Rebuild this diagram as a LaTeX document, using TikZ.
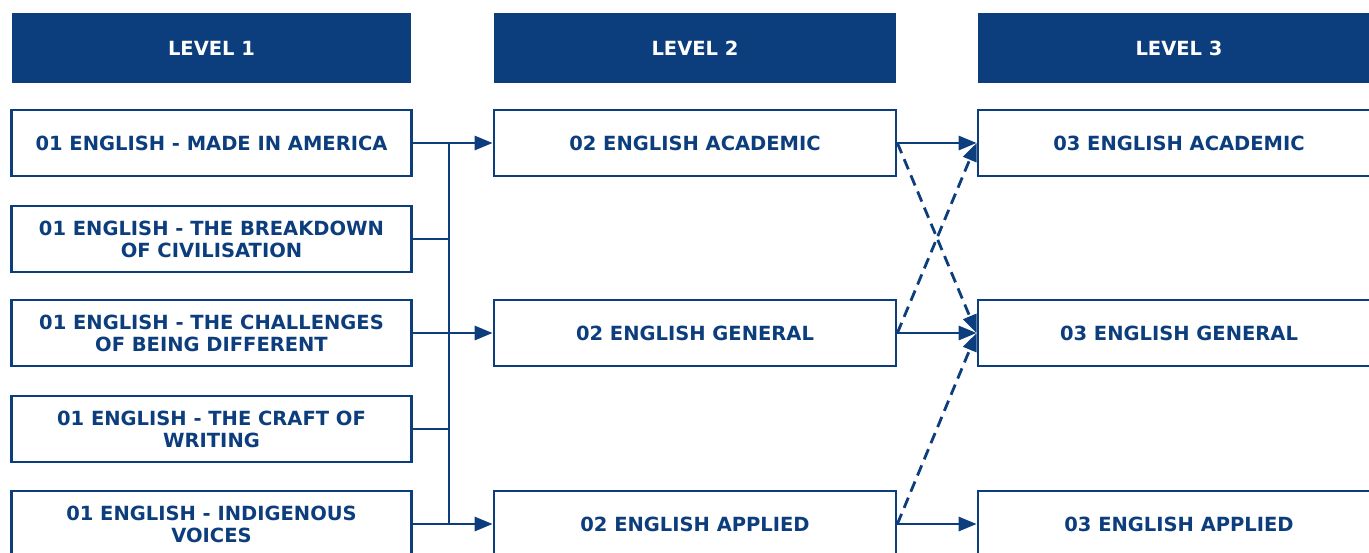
\documentclass[tikz,border=0pt]{standalone}
\usepackage{fontspec}
\setmainfont{DejaVu Sans}
\usetikzlibrary{arrows.meta}

\definecolor{navy}{HTML}{0C3D7C}

\tikzset{
  levelhead/.style={fill=navy, text=white, font=\fontsize{11.1}{12.5}\selectfont\bfseries,
    inner sep=0pt, minimum width=8cm, minimum height=1.4cm},
  unit/.style={draw=navy, line width=1.6pt, fill=white, text=navy,
    font=\fontsize{11.1}{12.5}\selectfont\bfseries, align=center, inner sep=0pt,
    minimum width=8cm, minimum height=1.32cm},
  link/.style={draw=navy, line width=1.6pt,
    -{Triangle[length=0.36cm,width=0.28cm]}},
  maybe/.style={link, dash pattern=on 0.22cm off 0.13cm},
}

\begin{document}
\begin{tikzpicture}[x=0.02cm, y=-0.02cm]
  \useasboundingbox (0,0) rectangle (1369,552);
  \clip (0,0) rectangle (1369,552);

  % level headings
  \node[levelhead] (head1) at (211.5,48) {LEVEL 1};
  \node[levelhead, minimum width=8.04cm] (head2) at (695,48) {LEVEL 2};
  \node[levelhead, minimum width=8.04cm] (head3) at (1179,48) {LEVEL 3};

  % level 1
  \node[unit] (made) at (211.5,143) {01 ENGLISH - MADE IN AMERICA};
  \node[unit] (breakdown) at (211.5,239) {01 ENGLISH - THE BREAKDOWN\\OF CIVILISATION};
  \node[unit] (different) at (211.5,333) {01 ENGLISH - THE CHALLENGES\\OF BEING DIFFERENT};
  \node[unit] (craft) at (211.5,429) {01 ENGLISH - THE CRAFT OF\\WRITING};
  \node[unit] (voices) at (211.5,524) {01 ENGLISH - INDIGENOUS\\VOICES};

  % level 2
  \node[unit, minimum width=8.04cm] (acad2) at (695,143) {02 ENGLISH ACADEMIC};
  \node[unit, minimum width=8.04cm] (gen2) at (695,333) {02 ENGLISH GENERAL};
  \node[unit, minimum width=8.04cm] (appl2) at (695,524) {02 ENGLISH APPLIED};

  % level 3
  \node[unit, minimum width=8.04cm] (acad3) at (1179,143) {03 ENGLISH ACADEMIC};
  \node[unit, minimum width=8.04cm] (gen3) at (1179,333) {03 ENGLISH GENERAL};
  \node[unit, minimum width=8.04cm] (appl3) at (1179,524) {03 ENGLISH APPLIED};

  \coordinate (bus) at (449,0);

  \draw[navy, line width=1.6pt] (bus |- made.east) -- (bus |- voices.east);
  \draw[navy, line width=1.6pt] (breakdown.east) -- (bus |- breakdown.east);
  \draw[navy, line width=1.6pt] (craft.east) -- (bus |- craft.east);

  \draw[link] (made.east) -- (acad2.west);
  \draw[link] (different.east) -- (gen2.west);
  \draw[link] (voices.east) -- (appl2.west);

  \draw[link] (acad2.east) -- (acad3.west);
  \draw[link] (gen2.east) -- (gen3.west);
  \draw[link] (appl2.east) -- (appl3.west);

  \draw[maybe] (acad2.east) -- (gen3.west);
  \draw[maybe] (gen2.east) -- (acad3.west);
  \draw[maybe] (appl2.east) -- (gen3.west);
\end{tikzpicture}
\end{document}
